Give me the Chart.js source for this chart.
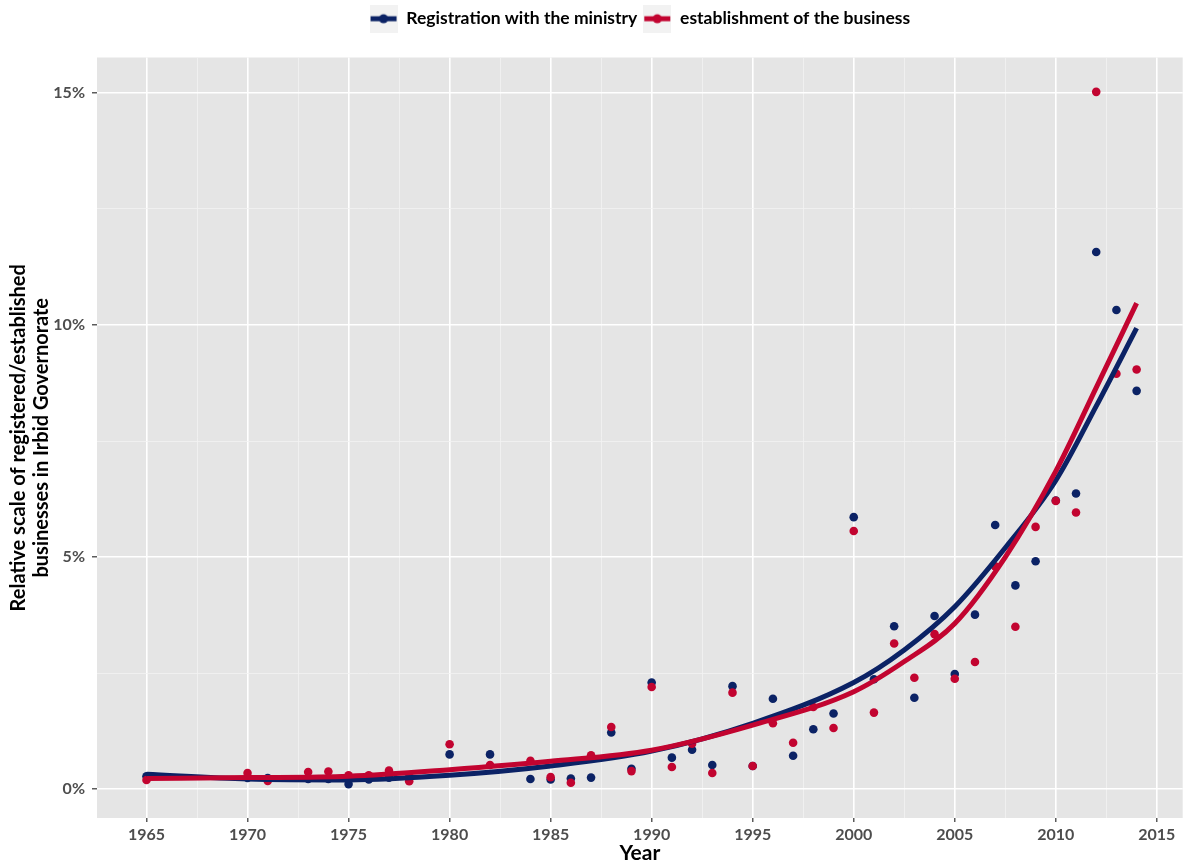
<!DOCTYPE html>
<html>
<head>
<meta charset="utf-8">
<script src="https://cdn.jsdelivr.net/npm/chart.js@4.4.1/dist/chart.umd.min.js"></script>
<style>
    html, body { margin: 0; padding: 0; background: #ffffff; }
    #wrap { width: 1187px; height: 866px; position: relative; }
</style>
</head>
<body>
<div id="wrap"><canvas id="chart"></canvas></div>
<script>
// Share of registered / established businesses per year (percent)
const years = [1965, 1970, 1971, 1973, 1974, 1975, 1976, 1977, 1978, 1980, 1982,
    1984, 1985, 1986, 1987, 1988, 1989, 1990, 1991, 1992, 1993, 1994, 1995, 1996,
    1997, 1998, 1999, 2000, 2001, 2002, 2003, 2004, 2005, 2006, 2007, 2008, 2009,
    2010, 2011, 2012, 2013, 2014];

const registration = [0.28, 0.24, 0.24, 0.22, 0.22, 0.11, 0.21, 0.25, 0.26, 0.75, 0.75,
    0.22, 0.21, 0.23, 0.25, 1.22, 0.44, 2.30, 0.68, 0.85, 0.52, 2.22, 0.50, 1.95,
    0.72, 1.29, 1.63, 5.86, 2.37, 3.51, 1.97, 3.73, 2.48, 3.76, 5.69, 4.39, 4.91,
    6.22, 6.37, 11.57, 10.32, 8.58];

const establishment = [0.20, 0.35, 0.18, 0.37, 0.38, 0.30, 0.30, 0.40, 0.17, 0.97, 0.52,
    0.61, 0.26, 0.14, 0.73, 1.34, 0.39, 2.20, 0.48, 0.98, 0.35, 2.08, 0.50, 1.42,
    1.00, 1.77, 1.32, 5.56, 1.65, 3.14, 2.40, 3.34, 2.38, 2.74, 4.80, 3.50, 5.65,
    6.21, 5.96, 15.02, 8.95, 9.04];

// smoothed trend lines
const fitYears = [1965, 1970, 1975, 1980, 1985, 1990, 1995, 2000, 2002.5, 2005, 2007.5, 2010, 2012, 2014];
const registrationFit = [0.32, 0.22, 0.20, 0.30, 0.50, 0.82, 1.42, 2.30, 3.00, 3.93, 5.20, 6.65, 8.25, 9.93];
const establishmentFit = [0.23, 0.25, 0.28, 0.42, 0.60, 0.84, 1.38, 2.10, 2.75, 3.57, 5.00, 6.85, 8.65, 10.47];

const seriesNames = ['Registration with the ministry', 'establishment of the business'];

const xTickValues = [1965, 1970, 1975, 1980, 1985, 1990, 1995, 2000, 2005, 2010, 2015];
const yTickValues = [0, 5, 10, 15];
const yTickLabels = ['0%', '5%', '10%', '15%'];

const blue = '#0b2265';
const red = '#c20430';

function withMinors(majors){
    // ggplot style minor breaks half way between the majors
    const out = [];
    majors.forEach((v, i) => {
        out.push(v);
        if (i < majors.length - 1) out.push((v + majors[i + 1]) / 2);
    });
    return out;
}

function points(xs, ys){
    return xs.map((x, i) => ({x: x, y: ys[i]}));
}

function legendKey(color){
    const c = document.createElement('canvas');
    c.width = 28;
    c.height = 28;
    const g = c.getContext('2d');
    g.fillStyle = '#f2f2f2';
    g.fillRect(0, 0, 28, 28);
    g.strokeStyle = color;
    g.lineWidth = 5;
    g.beginPath();
    g.moveTo(1, 14);
    g.lineTo(27, 14);
    g.stroke();
    g.fillStyle = color;
    g.beginPath();
    g.arc(14, 14, 4.5, 0, Math.PI * 2);
    g.fill();
    return c;
}

const panelBackground = {
    id: 'panelBackground',
    beforeDraw(chart){
        const {ctx, chartArea} = chart;
        ctx.save();
        ctx.fillStyle = '#e5e5e5';
        ctx.fillRect(chartArea.left, chartArea.top, chartArea.width, chartArea.height);
        ctx.restore();
    }
};

function gridWidth(majors){
    return (ctx) => (ctx.tick && majors.includes(ctx.tick.value)) ? 1.6 : 0.8;
}
function gridColor(majors){
    return (ctx) => (ctx.tick && majors.includes(ctx.tick.value)) ? '#ffffff' : '#f2f2f2';
}
function tickColor(majors){
    return (ctx) => (ctx.tick && majors.includes(ctx.tick.value)) ? '#333333' : 'rgba(0,0,0,0)';
}

Chart.defaults.font.family = 'Lato, "Open Sans", sans-serif';

const ctx = document.getElementById('chart').getContext('2d');

new Chart(ctx, {
    type: 'line',
    data: {
        datasets: [
            // first dataset is drawn on top
            {
                label: seriesNames[1] + ' trend',
                data: points(fitYears, establishmentFit),
                borderColor: red,
                borderWidth: 5,
                pointRadius: 0,
                cubicInterpolationMode: 'monotone',
                fill: false
            },
            {
                label: seriesNames[0] + ' trend',
                data: points(fitYears, registrationFit),
                borderColor: blue,
                borderWidth: 5,
                pointRadius: 0,
                cubicInterpolationMode: 'monotone',
                fill: false
            },
            {
                label: seriesNames[1],
                data: points(years, establishment),
                showLine: false,
                pointRadius: 4.3,
                pointBorderWidth: 0,
                pointBackgroundColor: red
            },
            {
                label: seriesNames[0],
                data: points(years, registration),
                showLine: false,
                pointRadius: 4.3,
                pointBorderWidth: 0,
                pointBackgroundColor: blue
            }
        ]
    },
    options: {
        responsive: true,
        maintainAspectRatio: false,
        animation: false,
        layout: {padding: {top: 4, left: 0, right: 0, bottom: 0}},
        plugins: {
            tooltip: {enabled: false},
            legend: {
                position: 'top',
                fullSize: false,
                labels: {
                    usePointStyle: true,
                    pointStyleWidth: 28,
                    padding: 6,
                    color: '#1a1a1a',
                    font: {size: 17.5, weight: 'bold'},
                    generateLabels: () => [
                        {text: seriesNames[0], pointStyle: legendKey(blue), fillStyle: blue, strokeStyle: blue, lineWidth: 0, hidden: false, datasetIndex: 3},
                        {text: seriesNames[1], pointStyle: legendKey(red), fillStyle: red, strokeStyle: red, lineWidth: 0, hidden: false, datasetIndex: 2}
                    ]
                }
            },
            // empty title used as a gap between legend and panel
            title: {
                display: true,
                text: '',
                weight: 500,
                font: {size: 10, lineHeight: 1},
                padding: {top: 10, bottom: 0}
            }
        },
        scales: {
            x: {
                type: 'linear',
                min: 1962.55,
                max: 2016.28,
                afterBuildTicks(scale){
                    scale.ticks = withMinors(xTickValues).map(v => ({value: v}));
                },
                afterFit(scale){
                    scale.height = 48;
                },
                border: {display: false},
                grid: {
                    color: gridColor(xTickValues),
                    lineWidth: gridWidth(xTickValues),
                    tickColor: tickColor(xTickValues),
                    tickWidth: 1.2,
                    tickLength: 4
                },
                ticks: {
                    autoSkip: false,
                    maxRotation: 0,
                    padding: 3,
                    color: '#4d4d4d',
                    font: {size: 16, weight: 'bold'},
                    callback: (v) => xTickValues.includes(v) ? String(v) : ''
                },
                title: {
                    display: true,
                    text: 'Year',
                    color: '#000000',
                    font: {size: 21, weight: 'bold'},
                    padding: {top: 0, bottom: 0}
                }
            },
            y: {
                type: 'linear',
                min: -0.62,
                max: 15.76,
                afterBuildTicks(scale){
                    scale.ticks = withMinors(yTickValues).map(v => ({value: v}));
                },
                afterFit(scale){
                    scale.width = 97;
                },
                border: {display: false},
                grid: {
                    color: gridColor(yTickValues),
                    lineWidth: gridWidth(yTickValues),
                    tickColor: tickColor(yTickValues),
                    tickWidth: 1.2,
                    tickLength: 5
                },
                ticks: {
                    padding: 7,
                    color: '#4d4d4d',
                    font: {size: 16, weight: 'bold'},
                    callback: (v) => {
                        const i = yTickValues.indexOf(v);
                        return i >= 0 ? yTickLabels[i] : '';
                    }
                },
                title: {
                    display: true,
                    text: ['Relative scale of registered/established', 'businesses in Irbid Governorate'],
                    color: '#000000',
                    font: {size: 20, weight: 'bold', lineHeight: 1.15},
                    padding: {top: 7, bottom: 0}
                }
            }
        }
    },
    plugins: [panelBackground]
});
</script>
</body>
</html>
